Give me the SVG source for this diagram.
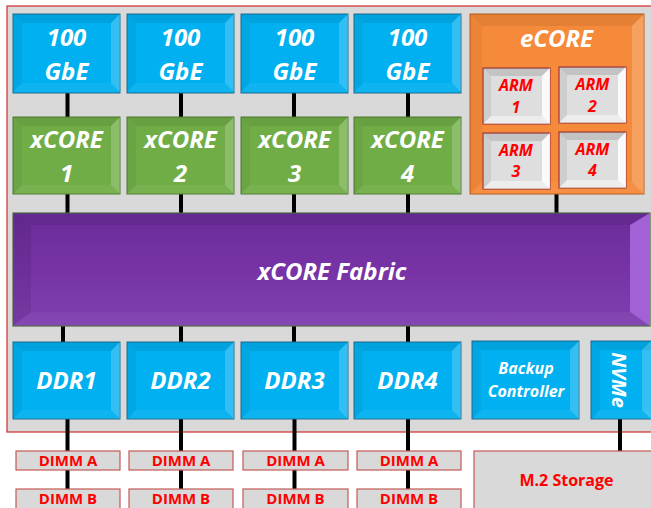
<svg xmlns="http://www.w3.org/2000/svg" xmlns:xlink="http://www.w3.org/1999/xlink" width="651" height="508" viewBox="0 0 651 508">
  <style>
    .lbl { font-family: "Open Sans", "Liberation Sans", sans-serif; font-weight: bold; font-style: italic; fill: #ffffff; text-anchor: middle; }
    .big { font-size: 24px; }
    .mid { font-size: 16px; }
    .arm { font-family: "Open Sans", "Liberation Sans", sans-serif; font-weight: bold; font-style: italic; fill: #ff0000; font-size: 16px; text-anchor: middle; }
    .mem { font-family: "Open Sans", "Liberation Sans", sans-serif; font-weight: bold; fill: #ff0000; text-anchor: middle; }
    .blue { fill: #00b0f0; stroke: #1f6f8f; stroke-width: 1; }
    .green { fill: #70ad47; stroke: #4f7a33; stroke-width: 1; }
    .orange { fill: #f58a3a; stroke: #b85c1c; stroke-width: 1; }
    .grey { fill: #dedede; stroke: #a33a3a; stroke-width: 1.2; }
    .purple { fill: url(#fabricFill); stroke: #4f6a45; stroke-width: 1.2; }
    .slot { fill: #d9d9d9; stroke: #c45a55; stroke-width: 1.2; }
    .dk { fill: #000000; }
    .lt { fill: #ffffff; }
    .cy { fill: #2ad8ff; }
    .link { stroke: #000000; stroke-width: 4; fill: none; }
  </style>
  <defs>
    <linearGradient id="fabricFill" x1="0" y1="0" x2="0" y2="1">
      <stop offset="0" stop-color="#6a2c98"/>
      <stop offset="0.5" stop-color="#7733a6"/>
      <stop offset="1" stop-color="#8040b0"/>
    </linearGradient>
    <!-- bevel overlay for the standard 107 x 78 blocks -->
    <g id="bev107">
      <polygon class="dk" fill-opacity="0.08" points="0,0 107,0 98,9 9,9"/>
      <polygon class="dk" fill-opacity="0.05" points="0,0 9,9 9,69 0,78"/>
      <polygon class="lt" fill-opacity="0.2" points="107,0 107,78 98,69 98,9"/>
      <polygon class="lt" fill-opacity="0.05" points="0,78 107,78 98,69 9,69"/>
    </g>
    <!-- bevel overlay for the small ARM tiles -->
    <g id="bevArm">
      <polygon class="dk" fill-opacity="0.12" points="0,0 67,0 59,8 8,8"/>
      <polygon class="dk" fill-opacity="0.07" points="0,0 8,8 8,48 0,56"/>
      <polygon class="lt" fill-opacity="0.85" points="67,0 67,56 59,48 59,8"/>
      <polygon class="lt" fill-opacity="0.45" points="0,56 67,56 59,48 8,48"/>
    </g>
  </defs>

  <!-- chip outline -->
  <rect x="7" y="6" width="660" height="426" fill="#d9d9d9" stroke="#d42a2a" stroke-width="1.2"/>

  <!-- links -->
  <g id="connectors" class="link">
    <line x1="67.5" y1="93" x2="67.5" y2="117"/>
    <line x1="181" y1="93" x2="181" y2="117"/>
    <line x1="294" y1="93" x2="294" y2="117"/>
    <line x1="408" y1="93" x2="408" y2="117"/>
    <line x1="67.5" y1="194" x2="67.5" y2="213"/>
    <line x1="181" y1="194" x2="181" y2="213"/>
    <line x1="294" y1="194" x2="294" y2="213"/>
    <line x1="408" y1="194" x2="408" y2="213"/>
    <line x1="556.5" y1="194" x2="556.5" y2="213"/>
    <line x1="63" y1="326" x2="63" y2="342"/>
    <line x1="181" y1="326" x2="181" y2="342"/>
    <line x1="294" y1="326" x2="294" y2="342"/>
    <line x1="408" y1="326" x2="408" y2="342"/>
    <line x1="67.5" y1="419" x2="67.5" y2="451"/>
    <line x1="181" y1="419" x2="181" y2="451"/>
    <line x1="294.5" y1="419" x2="294.5" y2="451"/>
    <line x1="408" y1="419" x2="408" y2="451"/>
    <line x1="67.5" y1="470" x2="67.5" y2="489"/>
    <line x1="181" y1="470" x2="181" y2="489"/>
    <line x1="294.5" y1="470" x2="294.5" y2="489"/>
    <line x1="408" y1="470" x2="408" y2="489"/>
    <line x1="620" y1="419" x2="620" y2="451"/>
  </g>

  <!-- 100 GbE ports -->
  <g id="gbe1">
    <rect class="blue" x="13" y="14" width="107" height="79"/>
    <use xlink:href="#bev107" transform="translate(13,14)"/>
    <text class="lbl big" x="66.5" y="46">100</text>
    <text class="lbl big" x="66.5" y="80">GbE</text>
  </g>
  <g id="gbe2">
    <rect class="blue" x="127" y="14" width="107" height="79"/>
    <use xlink:href="#bev107" transform="translate(127,14)"/>
    <text class="lbl big" x="180.5" y="46">100</text>
    <text class="lbl big" x="180.5" y="80">GbE</text>
  </g>
  <g id="gbe3">
    <rect class="blue" x="241" y="14" width="107" height="79"/>
    <use xlink:href="#bev107" transform="translate(241,14)"/>
    <text class="lbl big" x="294.5" y="46">100</text>
    <text class="lbl big" x="294.5" y="80">GbE</text>
  </g>
  <g id="gbe4">
    <rect class="blue" x="354" y="14" width="107" height="79"/>
    <use xlink:href="#bev107" transform="translate(354,14)"/>
    <text class="lbl big" x="407.5" y="46">100</text>
    <text class="lbl big" x="407.5" y="80">GbE</text>
  </g>

  <!-- xCORE clusters -->
  <g id="xcore1">
    <rect class="green" x="13" y="117" width="107" height="77"/>
    <use xlink:href="#bev107" transform="translate(13,117) scale(1,0.987)"/>
    <text class="lbl big" x="66.5" y="148">xCORE</text>
    <text class="lbl big" x="66.5" y="182">1</text>
  </g>
  <g id="xcore2">
    <rect class="green" x="127" y="117" width="107" height="77"/>
    <use xlink:href="#bev107" transform="translate(127,117) scale(1,0.987)"/>
    <text class="lbl big" x="180.5" y="148">xCORE</text>
    <text class="lbl big" x="180.5" y="182">2</text>
  </g>
  <g id="xcore3">
    <rect class="green" x="241" y="117" width="107" height="77"/>
    <use xlink:href="#bev107" transform="translate(241,117) scale(1,0.987)"/>
    <text class="lbl big" x="294.5" y="148">xCORE</text>
    <text class="lbl big" x="294.5" y="182">3</text>
  </g>
  <g id="xcore4">
    <rect class="green" x="354" y="117" width="107" height="77"/>
    <use xlink:href="#bev107" transform="translate(354,117) scale(1,0.987)"/>
    <text class="lbl big" x="407.5" y="148">xCORE</text>
    <text class="lbl big" x="407.5" y="182">4</text>
  </g>

  <!-- eCORE with ARM tiles -->
  <g id="ecore">
    <rect class="orange" x="470" y="14" width="174" height="180"/>
    <polygon class="dk" fill-opacity="0.07" points="470,14 644,14 632,26 482,26"/>
    <polygon class="dk" fill-opacity="0.04" points="470,14 482,26 482,182 470,194"/>
    <polygon class="lt" fill-opacity="0.2" points="644,14 644,194 632,182 632,26"/>
    <polygon class="lt" fill-opacity="0.05" points="470,194 644,194 632,182 482,182"/>
    <text class="lbl big" x="556.5" y="47">eCORE</text>
  </g>
  <g id="arm1">
    <rect class="grey" x="483" y="68" width="67" height="56"/>
    <use xlink:href="#bevArm" transform="translate(483,68)"/>
    <text class="arm" x="516" y="91">ARM</text>
    <text class="arm" x="516" y="113">1</text>
  </g>
  <g id="arm2">
    <rect class="grey" x="559" y="67" width="67" height="56"/>
    <use xlink:href="#bevArm" transform="translate(559,67)"/>
    <text class="arm" x="592.5" y="90">ARM</text>
    <text class="arm" x="592.5" y="112">2</text>
  </g>
  <g id="arm3">
    <rect class="grey" x="483" y="133" width="67" height="56"/>
    <use xlink:href="#bevArm" transform="translate(483,133)"/>
    <text class="arm" x="516" y="156">ARM</text>
    <text class="arm" x="516" y="177">3</text>
  </g>
  <g id="arm4">
    <rect class="grey" x="559" y="132" width="67" height="56"/>
    <use xlink:href="#bevArm" transform="translate(559,132)"/>
    <text class="arm" x="592.5" y="155">ARM</text>
    <text class="arm" x="592.5" y="176">4</text>
  </g>

  <!-- interconnect fabric -->
  <g id="fabric">
    <rect class="purple" x="13" y="213" width="637" height="113"/>
    <polygon class="dk" fill-opacity="0.06" points="13,213 650,213 632,225 31,225"/>
    <polygon class="dk" fill-opacity="0.08" points="13,213 31,225 31,312 13,326"/>
    <polygon fill="#a262d6" points="650,213 650,326 630,312 630,225"/>
    <polygon class="lt" fill-opacity="0.04" points="13,326 650,326 630,312 31,312"/>
    <text class="lbl big" x="332" y="280">xCORE Fabric</text>
  </g>

  <!-- memory controllers -->
  <g id="ddr1">
    <rect class="blue" x="13" y="342" width="107" height="77"/>
    <use xlink:href="#bev107" transform="translate(13,342) scale(1,0.987)"/>
    <text class="lbl big" x="66.5" y="389">DDR1</text>
  </g>
  <g id="ddr2">
    <rect class="blue" x="127" y="342" width="107" height="77"/>
    <use xlink:href="#bev107" transform="translate(127,342) scale(1,0.987)"/>
    <text class="lbl big" x="180.5" y="389">DDR2</text>
  </g>
  <g id="ddr3">
    <rect class="blue" x="241" y="342" width="107" height="77"/>
    <use xlink:href="#bev107" transform="translate(241,342) scale(1,0.987)"/>
    <text class="lbl big" x="294.5" y="389">DDR3</text>
  </g>
  <g id="ddr4">
    <rect class="blue" x="354" y="342" width="107" height="77"/>
    <use xlink:href="#bev107" transform="translate(354,342) scale(1,0.987)"/>
    <text class="lbl big" x="407.5" y="389">DDR4</text>
  </g>
  <g id="backup">
    <rect class="blue" x="472" y="341" width="107" height="78"/>
    <use xlink:href="#bev107" transform="translate(472,341)"/>
    <text class="lbl mid" x="526" y="374">Backup</text>
    <text class="lbl mid" x="526" y="397">Controller</text>
  </g>
  <g id="nvme">
    <rect class="blue" x="591" y="341" width="70" height="78"/>
    <polygon class="dk" fill-opacity="0.08" points="591,341 661,341 652,350 600,350"/>
    <polygon class="dk" fill-opacity="0.05" points="591,341 600,350 600,410 591,419"/>
    <polygon class="lt" fill-opacity="0.2" points="651,341 651,419 642,410 642,350"/>
    <polygon class="lt" fill-opacity="0.05" points="591,419 661,419 652,410 600,410"/>
    <text class="lbl" font-size="20" transform="translate(612,380) rotate(90)" x="0" y="0">NVMe</text>
  </g>

  <!-- DIMM slots -->
  <g id="dimm1a"><rect class="slot" x="16" y="451" width="104" height="19"/><text class="mem" font-size="15" x="68" y="466">DIMM A</text></g>
  <g id="dimm2a"><rect class="slot" x="129" y="451" width="104" height="19"/><text class="mem" font-size="15" x="181" y="466">DIMM A</text></g>
  <g id="dimm3a"><rect class="slot" x="243" y="451" width="105" height="19"/><text class="mem" font-size="15" x="295.5" y="466">DIMM A</text></g>
  <g id="dimm4a"><rect class="slot" x="357" y="451" width="104" height="19"/><text class="mem" font-size="15" x="409" y="466">DIMM A</text></g>
  <g id="dimm1b"><rect class="slot" x="16" y="489" width="104" height="22"/><text class="mem" font-size="15" x="68" y="504">DIMM B</text></g>
  <g id="dimm2b"><rect class="slot" x="129" y="489" width="104" height="22"/><text class="mem" font-size="15" x="181" y="504">DIMM B</text></g>
  <g id="dimm3b"><rect class="slot" x="243" y="489" width="105" height="22"/><text class="mem" font-size="15" x="295.5" y="504">DIMM B</text></g>
  <g id="dimm4b"><rect class="slot" x="357" y="489" width="104" height="22"/><text class="mem" font-size="15" x="409" y="504">DIMM B</text></g>

  <!-- M.2 storage -->
  <g id="m2">
    <rect class="slot" x="474" y="451" width="190" height="70"/>
    <text class="mem" font-size="16" x="566.5" y="486">M.2 Storage</text>
  </g>
</svg>
